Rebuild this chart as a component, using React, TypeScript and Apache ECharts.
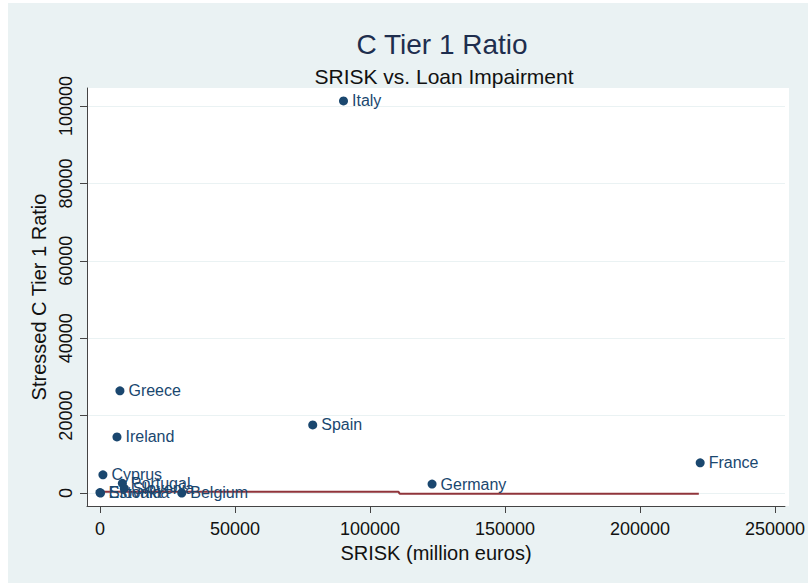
import React, { useEffect, useRef } from "react";
import * as echarts from "echarts";

const countries = ["Italy", "Greece", "Ireland", "Spain", "France", "Germany", "Cyprus", "Portugal", "Slovenia", "Estonia", "Slovakia", "Belgium"];
const srisk = [90200, 7400, 6300, 78800, 222300, 123000, 1100, 8300, 9000, 0, 200, 30300];
const stressed = [101300, 26400, 14500, 17600, 7800, 2300, 4700, 2500, 1200, 100, 0, 0];

const fitX = [0, 110500, 111000, 221800];
const fitY = [350, 350, -170, -170];

const xTicks = [0, 50000, 100000, 150000, 200000, 250000];
const yTicks = [0, 20000, 40000, 60000, 80000, 100000];

const FONT = "Liberation Sans, Arial, sans-serif";

export default function App() {
  const ref = useRef<HTMLDivElement>(null);
  useEffect(() => {
    const chart = echarts.init(ref.current!, undefined, { renderer: "svg" });
    chart.setOption({
      animation: false,
      backgroundColor: "transparent",
      graphic: [
        { type: "rect", z: -10, shape: { x: 8, y: 3, width: 800, height: 580 }, style: { fill: "#EAF2F3" }, silent: true },
        { type: "rect", z: -9, shape: { x: 87, y: 88, width: 702, height: 418 }, style: { fill: "#FFFFFF" }, silent: true },
      ],
      title: [
        { text: "C Tier 1 Ratio", left: 437, top: 25, textAlign: "center", textStyle: { fontFamily: FONT, fontSize: 28, fontWeight: "normal", color: "#1E2E4E" } },
        { text: "SRISK vs. Loan Impairment", left: 439, top: 61, textAlign: "center", textStyle: { fontFamily: FONT, fontSize: 21, fontWeight: "normal", color: "#111111" } },
      ],
      grid: { left: 87, right: 19, top: 88, bottom: 77, containLabel: false },
      xAxis: {
        type: "value",
        min: -4800,
        max: 253700,
        name: "SRISK (million euros)",
        nameLocation: "middle",
        nameGap: 33,
        nameTextStyle: { fontFamily: FONT, fontSize: 20, color: "#111111" },
        axisLine: { show: true, onZero: false, lineStyle: { color: "#444444", width: 1 } },
        axisTick: { show: true, length: 7, customValues: xTicks, lineStyle: { color: "#444444" } },
        axisLabel: { customValues: xTicks, margin: 14, fontFamily: FONT, fontSize: 18, color: "#111111", formatter: (v: number) => String(v) },
        splitLine: { show: false },
      },
      yAxis: {
        type: "value",
        min: -3360,
        max: 104650,
        name: "Stressed C Tier 1 Ratio",
        nameLocation: "middle",
        nameGap: 36,
        nameRotate: 90,
        nameTextStyle: { fontFamily: FONT, fontSize: 20, color: "#111111" },
        axisLine: { show: true, onZero: false, lineStyle: { color: "#444444", width: 1 } },
        axisTick: { show: true, length: 7, customValues: yTicks, lineStyle: { color: "#444444" } },
        axisLabel: { customValues: yTicks, rotate: 90, margin: 12, fontFamily: FONT, fontSize: 18, color: "#111111", formatter: (v: number) => String(v) },
        splitLine: { show: false },
      },
      series: [
        {
          type: "scatter",
          symbolSize: 9,
          itemStyle: { color: "#1A476F", opacity: 1 },
          data: countries.map((c, i) => ({ name: c, value: [srisk[i], stressed[i]] })),
          label: {
            show: true,
            position: "right",
            distance: 4,
            formatter: (p: any) => p.name,
            fontFamily: FONT,
            fontSize: 16,
            color: "#1A476F",
          },
          labelLayout: { hideOverlap: false },
          markLine: {
            silent: true,
            symbol: "none",
            label: { show: false },
            lineStyle: { color: "#EAF2F3", width: 1, type: "solid" },
            data: yTicks.map((v) => ({ yAxis: v })),
            z: 0,
          },
          z: 3,
        },
        {
          type: "line",
          data: fitX.map((x, i) => [x, fitY[i]]),
          showSymbol: false,
          symbol: "none",
          lineStyle: { color: "#90353B", width: 2 },
          z: 2,
        },
      ],
    });
    return () => chart.dispose();
  }, []);
  return <div ref={ref} style={{ position: "absolute", left: 0, top: 0, width: 808, height: 583 }} />;
}
